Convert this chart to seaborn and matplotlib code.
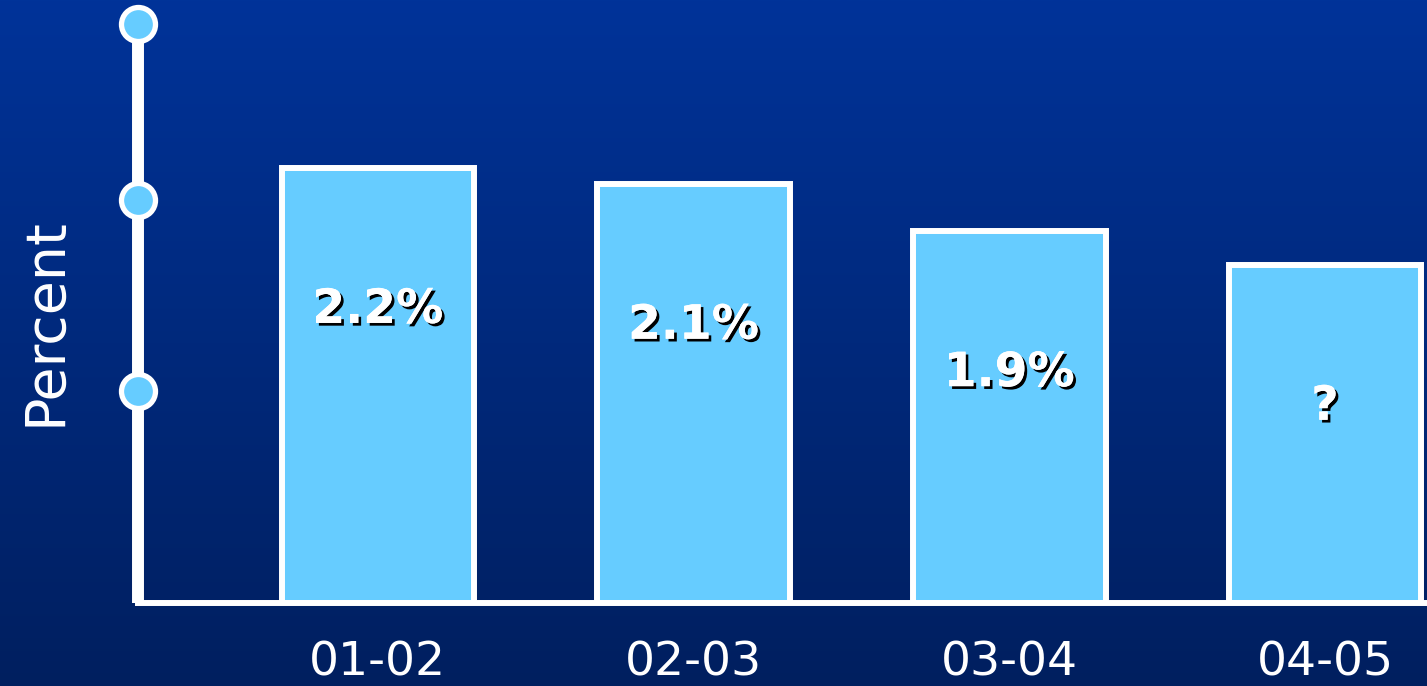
import numpy as np
import matplotlib
matplotlib.use("Agg")
import matplotlib.pyplot as plt
import matplotlib.patheffects as pe
import seaborn as sns

# school years and bar heights (percent)
periods = ["01-02", "02-03", "03-04", "04-05"]
heights = [2.2, 2.12, 1.88, 1.71]
bar_labels = ["2.2%", "2.1%", "1.9%", "?"]
# decorative markers on the y axis
marker_vals = [1.07, 2.04, 2.93]

bar_color = "#66CCFF"
top_bg = np.array([0, 51, 153]) / 255
bot_bg = np.array([0, 31, 95]) / 255

sns.set_style("white")
plt.rcParams["font.family"] = ["DejaVu Sans"]

fig = plt.figure(figsize=(14.27, 6.86), dpi=100)

# gradient background
bg = fig.add_axes([0, 0, 1, 1], zorder=-10)
t = np.linspace(0, 1, 256)[:, None]
grad = top_bg[None, None, :] * (1 - t[:, :, None]) + bot_bg[None, None, :] * t[:, :, None]
bg.imshow(grad, aspect="auto", extent=[0, 1, 0, 1])
bg.set_axis_off()

ax = fig.add_axes([138 / 1427, 83 / 686, 1289 / 1427, 603 / 686])
ax.set_facecolor("none")

sns.barplot(x=periods, y=heights, color=bar_color, saturation=1, width=0.61,
            edgecolor="white", linewidth=4.3, ax=ax)

ax.set_xlim(-0.76, 3.323)
ax.set_ylim(0, 3.05)

# value labels inside bars
shadow = [pe.withSimplePatchShadow(offset=(2, -2), shadow_rgbFace="black", alpha=1),
          pe.Normal()]
for i, (h, lab) in enumerate(zip(heights, bar_labels)):
    ax.text(i, h - 0.72, lab, ha="center", va="center", color="white",
            fontsize=34, fontweight="bold", path_effects=shadow)

# axis styling
for side in ["top", "right"]:
    ax.spines[side].set_visible(False)
ax.spines["left"].set_color("white")
ax.spines["left"].set_linewidth(8.6)
ax.spines["left"].set_capstyle("butt")
ax.spines["left"].set_bounds(0, marker_vals[-1])
ax.spines["bottom"].set_color("white")
ax.spines["bottom"].set_linewidth(4.3)

ax.scatter([ax.get_xlim()[0]] * len(marker_vals), marker_vals, s=600,
           color=bar_color, edgecolor="white", linewidth=3.8, zorder=5, clip_on=False)

ax.set_yticks([])
ax.tick_params(axis="x", length=0, pad=27, labelsize=34, labelcolor="white")
ax.set_xlabel("")
ax.set_ylabel("Percent", color="white", fontsize=40, va="center")
ax.yaxis.set_label_coords(-0.072, 0.466)

fig.savefig("out.png", dpi=100)
